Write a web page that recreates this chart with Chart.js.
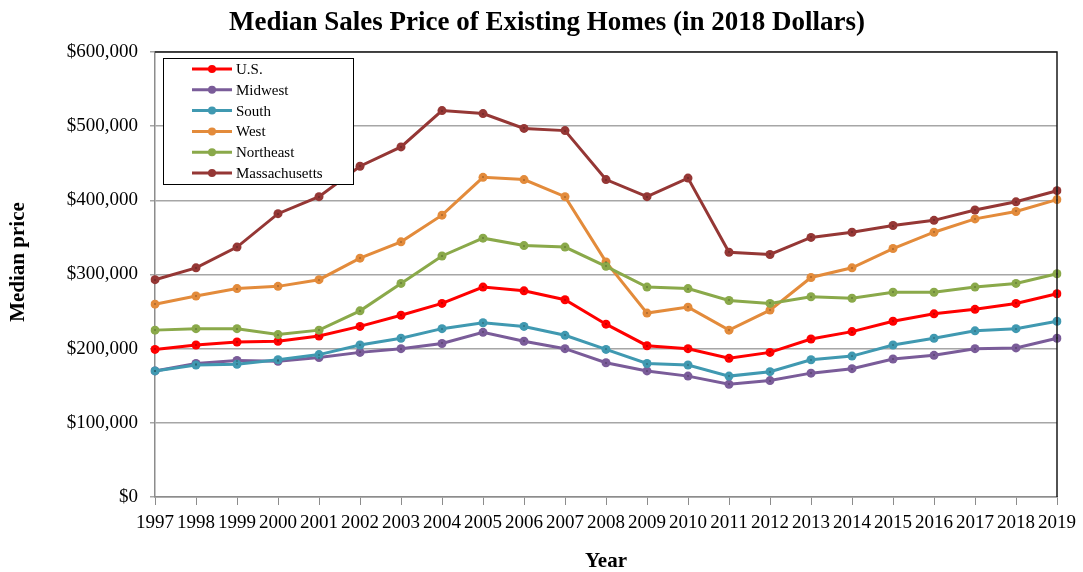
<!DOCTYPE html>
<html>
<head>
<meta charset="utf-8">
<title>Median Sales Price of Existing Homes</title>
<script src="https://cdn.jsdelivr.net/npm/chart.js@4/dist/chart.umd.min.js"></script>
<style>
  html, body { margin: 0; padding: 0; background: #ffffff; }
  #wrap { width: 1083px; height: 572px; position: relative; }
</style>
</head>
<body>
<div id="wrap"><canvas id="chart"></canvas></div>
<script>
// Năm
const years = ["1997", "1998", "1999", "2000", "2001", "2002", "2003", "2004", "2005", "2006", "2007", "2008",
    "2009", "2010", "2011", "2012", "2013", "2014", "2015", "2016", "2017", "2018", "2019"];

// Giá trung vị (USD năm 2018)
const usPrices = [199000, 205000, 209000, 210000, 217000, 230000, 245000, 261000, 283000, 278000, 266000, 233000,
    204000, 200000, 187000, 195000, 213000, 223000, 237000, 247000, 253000, 261000, 274000];
const midwestPrices = [170000, 180000, 184000, 183000, 188000, 195000, 200000, 207000, 222000, 210000, 200000, 181000,
    170000, 163000, 152000, 157000, 167000, 173000, 186000, 191000, 200000, 201000, 214000];
const southPrices = [170000, 178000, 179000, 185000, 192000, 205000, 214000, 227000, 235000, 230000, 218000, 199000,
    180000, 178000, 163000, 169000, 185000, 190000, 205000, 214000, 224000, 227000, 237000];
const westPrices = [260000, 271000, 281000, 284000, 293000, 322000, 344000, 380000, 431000, 428000, 405000, 317000,
    248000, 256000, 225000, 252000, 296000, 309000, 335000, 357000, 375000, 385000, 401000];
const northeastPrices = [225000, 227000, 227000, 219000, 225000, 251000, 288000, 325000, 349000, 339000, 337000, 311000,
    283000, 281000, 265000, 261000, 270000, 268000, 276000, 276000, 283000, 288000, 301000];
const massPrices = [293000, 309000, 337000, 382000, 405000, 446000, 472000, 521000, 517000, 497000, 494000, 428000,
    405000, 430000, 330000, 327000, 350000, 357000, 366000, 373000, 387000, 398000, 413000];

const seriesNames = ["U.S.", "Midwest", "South", "West", "Northeast", "Massachusetts"];
const seriesColors = ["#ff0000", "#7a5c99", "#4099b1", "#e38b3b", "#8aa94a", "#953735"];
const seriesValues = [usPrices, midwestPrices, southPrices, westPrices, northeastPrices, massPrices];

// Trục Y
const yMax = 600000;
const yStep = 100000;

const chartTitle = "Median Sales Price of Existing Homes (in 2018 Dollars)";
const yTitle = "Median price";

const serif = "'Liberation Serif', 'Times New Roman', serif";

// Viền trên và phải của vùng vẽ + chấm nhỏ giữa marker
const frameBorder = {
    id: "frameBorder",
    afterDatasetsDraw(chart) {
        const { ctx, chartArea: a } = chart;
        ctx.save();
        ctx.strokeStyle = "#1a1a1a";
        ctx.lineWidth = 1.5;
        ctx.beginPath();
        ctx.moveTo(a.left, a.top);
        ctx.lineTo(a.right, a.top);
        ctx.lineTo(a.right, a.bottom);
        ctx.stroke();

        ctx.fillStyle = "rgba(0,0,0,0.75)";
        chart.data.datasets.forEach((ds, i) => {
            chart.getDatasetMeta(i).data.forEach(pt => {
                ctx.fillRect(Math.round(pt.x) - 0.5, Math.round(pt.y) - 0.5, 1, 1);
            });
        });
        ctx.restore();
    }
};

// Tiêu đề biểu đồ và tiêu đề trục Y (vẽ tay để đặt đúng vị trí)
const titles = {
    id: "titles",
    afterDraw(chart) {
        const ctx = chart.ctx;
        ctx.save();
        ctx.fillStyle = "#000000";
        ctx.textAlign = "center";
        ctx.textBaseline = "middle";

        ctx.font = "bold 27px " + serif;
        ctx.fillText(chartTitle, 547, 23);

        ctx.translate(19, 262);
        ctx.rotate(-Math.PI / 2);
        ctx.font = "bold 21px " + serif;
        ctx.fillText(yTitle, 0, 0);
        ctx.restore();
    }
};

// Chú thích dạng hộp nằm trong vùng vẽ
const boxLegend = {
    id: "boxLegend",
    afterDraw(chart) {
        const ctx = chart.ctx;
        const x = 163, y = 58, w = 190, h = 126;
        ctx.save();
        ctx.fillStyle = "#ffffff";
        ctx.fillRect(x, y, w, h);
        ctx.strokeStyle = "#000000";
        ctx.lineWidth = 1;
        ctx.strokeRect(x + 0.5, y + 0.5, w, h);
        ctx.font = "15px " + serif;
        ctx.textBaseline = "middle";
        chart.data.datasets.forEach((ds, i) => {
            const ry = y + 11 + i * 20.8;
            ctx.strokeStyle = ds.borderColor;
            ctx.lineWidth = 3;
            ctx.beginPath();
            ctx.moveTo(192, ry);
            ctx.lineTo(232, ry);
            ctx.stroke();
            ctx.fillStyle = ds.borderColor;
            ctx.beginPath();
            ctx.arc(212, ry, 4, 0, Math.PI * 2);
            ctx.fill();
            ctx.fillStyle = "#000000";
            ctx.fillText(ds.label, 236, ry + 1);
        });
        ctx.restore();
    }
};

const datasets = seriesNames.map((name, i) => ({
    label: name,
    data: seriesValues[i],
    borderColor: seriesColors[i],
    backgroundColor: seriesColors[i],
    borderWidth: 3,
    pointRadius: 4.5,
    pointHoverRadius: 4.5,
    pointBorderWidth: 0,
    tension: 0,
    order: -i
}));

new Chart(document.getElementById("chart"), {
    type: "line",
    data: { labels: years, datasets: datasets },
    plugins: [frameBorder, titles, boxLegend],
    options: {
        responsive: true,
        maintainAspectRatio: false,
        animation: false,
        layout: { padding: { left: 0, right: 25, top: 52, bottom: 0 } },
        plugins: {
            legend: { display: false },
            tooltip: { enabled: false },
            title: { display: false }
        },
        scales: {
            x: {
                offset: false,
                grid: {
                    display: true,
                    drawOnChartArea: false,
                    drawTicks: true,
                    tickLength: 8,
                    color: "#8c8c8c"
                },
                border: { color: "#8c8c8c", width: 1.5 },
                ticks: {
                    color: "#000000",
                    font: { family: serif, size: 19 },
                    padding: 7,
                    maxRotation: 0,
                    autoSkip: false
                },
                title: {
                    display: true,
                    text: "Year",
                    color: "#000000",
                    font: { family: serif, size: 21, weight: "bold" },
                    padding: { top: 15, bottom: -2 }
                },
                afterFit(scale) { scale.height = 75; }
            },
            y: {
                min: 0,
                max: yMax,
                grid: {
                    color: "#a6a6a6",
                    lineWidth: 1.5,
                    tickLength: 5
                },
                border: { color: "#8c8c8c", width: 1.5 },
                ticks: {
                    stepSize: yStep,
                    color: "#000000",
                    font: { family: serif, size: 19 },
                    padding: 12,
                    callback: v => "$" + v.toLocaleString("en-US")
                },
                afterFit(scale) { scale.width = 155; }
            }
        }
    }
});
</script>
</body>
</html>
